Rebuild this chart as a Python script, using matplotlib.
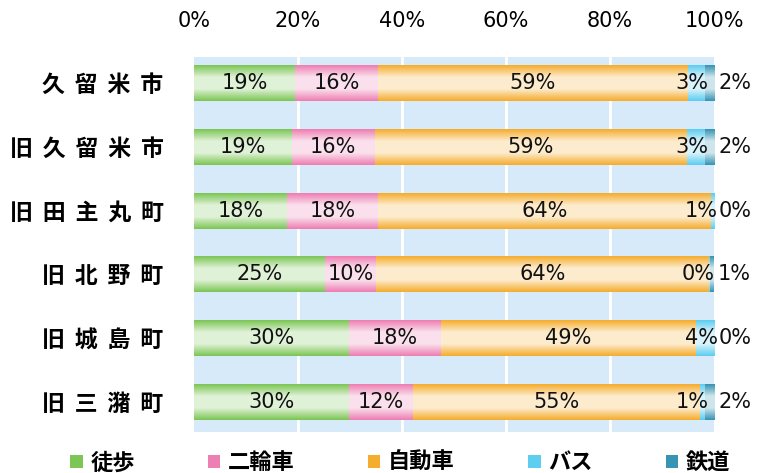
import numpy as np
import matplotlib
matplotlib.use("Agg")
import matplotlib.pyplot as plt
from matplotlib.colors import LinearSegmentedColormap, to_rgb

plt.rcParams['font.family'] = ['Noto Sans CJK JP', 'DejaVu Sans']

categories = ['久留米市', '旧久留米市', '旧田主丸町', '旧北野町', '旧城島町', '旧三潴町']
series = ['徒歩', '二輪車', '自動車', 'バス', '鉄道']
# bar lengths (%)
walk  = [19.4, 18.8, 17.9, 25.2, 29.8, 29.8]
bike  = [16.0, 16.0, 17.5,  9.8, 17.7, 12.3]
car   = [59.6, 60.0, 64.0, 64.0, 49.0, 55.2]
bus   = [3.2,  3.4,  0.6,  0.3,  3.5,  0.9]
rail  = [1.8,  1.8,  0.0,  0.7,  0.0,  1.8]
# printed labels
walk_lbl = ['19%', '19%', '18%', '25%', '30%', '30%']
bike_lbl = ['16%', '16%', '18%', '10%', '18%', '12%']
car_lbl  = ['59%', '59%', '64%', '64%', '49%', '55%']
bus_lbl  = ['3%', '3%', '1%', '0%', '4%', '1%']
rail_lbl = ['2%', '2%', '0%', '1%', '0%', '2%']
xticks = [0, 20, 40, 60, 80, 100]
xtick_labels = ['0%', '20%', '40%', '60%', '80%', '100%']

colors = ['#7cc655', '#ee7fb2', '#f5ad2e', '#5dcdf0', '#3794b3']
NUMFONT = ['DejaVu Sans']
NS = 15

fig = plt.figure(figsize=(7.6, 4.73), dpi=100)
ax = fig.add_axes([194/760, 1-432/473, 520/760, 375/473])
ax.set_facecolor('#d7eaf9')

ypos = np.arange(len(categories))
h = 0.56
vals = [walk, bike, car, bus, rail]
lbls = [walk_lbl, bike_lbl, car_lbl, bus_lbl, rail_lbl]
left = np.zeros(len(categories))
grad = np.linspace(0, 1, 64).reshape(-1, 1)
for vi, (v, c, lab) in enumerate(zip(vals, colors, lbls)):
    bars = ax.barh(ypos, v, left=left, height=h, color=c, label=series[vi], zorder=2)
    rgb = np.array(to_rgb(c))
    light = rgb + (1 - rgb) * 0.76
    cmap = LinearSegmentedColormap.from_list('g' + str(vi), [c, light, light, c])
    for b in bars:
        if b.get_width() <= 0:
            continue
        x0, y0, w, hh = b.get_x(), b.get_y(), b.get_width(), b.get_height()
        ax.imshow(grad, cmap=cmap, aspect='auto', extent=(x0, x0 + w, y0 + hh, y0),
                  zorder=3, interpolation='bilinear')
    for i, b in enumerate(bars):
        xc = b.get_x() + b.get_width() / 2
        if vi == 4:
            ax.text(100.8, ypos[i], lab[i], ha='left', va='center', fontsize=NS,
                    family=NUMFONT, color='#111111', zorder=5, clip_on=False)
        elif vi == 3:
            ax.text(b.get_x() + b.get_width() + 0.8, ypos[i], lab[i], ha='right', va='center',
                    fontsize=NS, family=NUMFONT, color='#111111', zorder=5)
        else:
            ax.text(xc, ypos[i], lab[i], ha='center', va='center', fontsize=NS,
                    family=NUMFONT, color='#111111', zorder=5)
    left = left + np.array(v)

ax.set_xlim(0, 100)
ax.set_ylim(len(categories) - 1 + 0.47, -0.41)
ax.set_xticks(xticks)
ax.set_xticklabels(xtick_labels, fontsize=NS, family=NUMFONT)
ax.xaxis.tick_top()
ax.tick_params(axis='x', length=0, pad=19)
ax.set_yticks(ypos)
ax.set_yticklabels([' \u2009'.join(c) for c in categories], fontsize=16.5, fontweight='bold')
ax.tick_params(axis='y', length=0, pad=22)
for x in xticks[1:-1]:
    ax.axvline(x, color='white', lw=2, zorder=1)
for s in ax.spines.values():
    s.set_visible(False)

leg = fig.legend(loc='lower center', bbox_to_anchor=(0.527, -0.045), ncol=5, frameon=False,
                 prop={'size': 16, 'weight': 'bold'}, handlelength=0.55, handleheight=0.55,
                 columnspacing=3.3, handletextpad=0.35)

fig.savefig('out.png', dpi=100)
